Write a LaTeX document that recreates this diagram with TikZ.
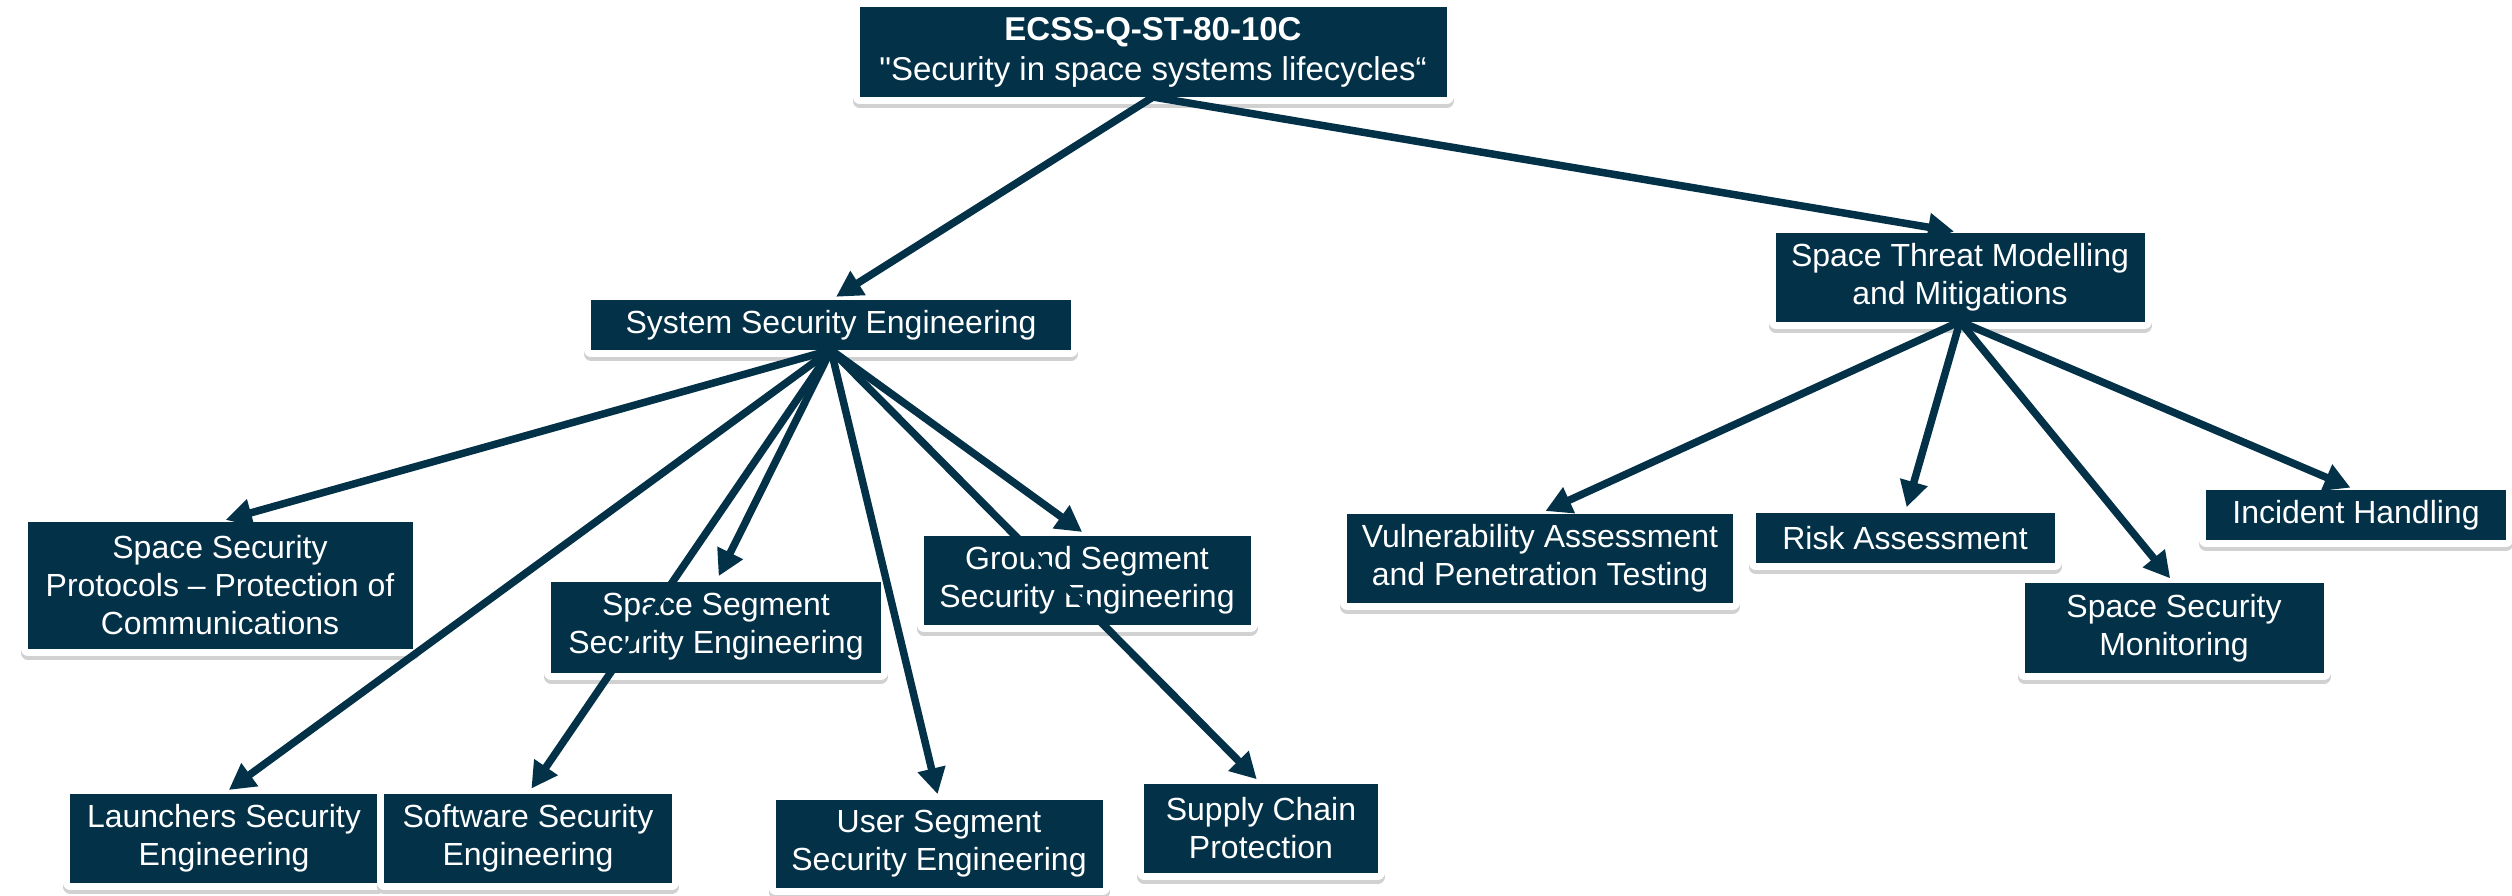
\documentclass[tikz,border=0pt]{standalone}
\usepackage{fontspec}
\setmainfont{Liberation Sans}[Ligatures=TeXOff]
\usepackage{tikz}
\usetikzlibrary{arrows.meta}
\definecolor{navy}{RGB}{3,49,72}

\begin{document}
\begin{tikzpicture}[x=1pt,y=1pt,yscale=-1,
  box/.style={fill=navy, text=white, align=center, inner sep=0pt, outer sep=0pt,
    font=\fontsize{32}{38}\selectfont,
    preaction={draw=black!18, line width=14pt, line join=round, transform canvas={yshift=-4pt}},
    preaction={draw=white, line width=14pt, line join=round}},
  link/.style={draw=navy, line width=7.5pt, -{Triangle[length=26pt,width=27pt]}, shorten >=6pt}]
\useasboundingbox (0,0) rectangle (2512,895);

% Text Node
\node [box, minimum width=587, minimum height=90, font=\fontsize{33}{40}\selectfont] (top) at (1153,52) {{\bfseries ECSS-Q-ST-80-10C}\\"Security in space systems lifecycles“};
% Text Node
\node [box, minimum width=480, minimum height=50] (sse) at (831,325) {System Security Engineering};
% Text Node
\node [box, minimum width=369, minimum height=89] (stm) at (1960,277) {Space Threat Modelling\\and Mitigations};
% Text Node
\node [box, minimum width=385, minimum height=127] (ssp) at (220,585) {Space Security\\Protocols – Protection of\\Communications};
% Text Node
\node [box, minimum width=330, minimum height=91] (spaceseg) at (716,627) {Space Segment\\Security Engineering};
% Text Node
\node [box, minimum width=327, minimum height=89] (ground) at (1087,580) {Ground Segment\\Security Engineering};
% Text Node
\node [box, minimum width=308, minimum height=89] (launch) at (224,838) {Launchers Security\\Engineering};
% Text Node
\node [box, minimum width=288, minimum height=89] (software) at (528,838) {Software Security\\Engineering};
% Text Node
\node [box, minimum width=327, minimum height=88] (user) at (939,844) {User Segment\\Security Engineering};
% Text Node
\node [box, minimum width=234, minimum height=89] (supply) at (1261,828) {Supply Chain\\Protection};
% Text Node
\node [box, minimum width=386, minimum height=89] (vuln) at (1540,558) {Vulnerability Assessment\\and Penetration Testing};
% Text Node
\node [box, minimum width=299, minimum height=50] (risk) at (1905,538) {Risk Assessment};
% Text Node
\node [box, minimum width=299, minimum height=90] (monitor) at (2174,628) {Space Security\\Monitoring};
% Text Node
\node [box, minimum width=300, minimum height=50] (incident) at (2356,515) {Incident Handling};

%Straight Lines
\draw [link] (top.south) -- (sse.north);
\draw [link] (top.south) -- (stm.north);
%Straight Lines
\foreach \n in {ssp,launch,software,spaceseg,user,supply,ground}
  \draw [link] (sse.south) -- (\n.north);
%Straight Lines
\foreach \n in {vuln,risk,monitor,incident}
  \draw [link] (stm.south) -- (\n.north);

\end{tikzpicture}
\end{document}
